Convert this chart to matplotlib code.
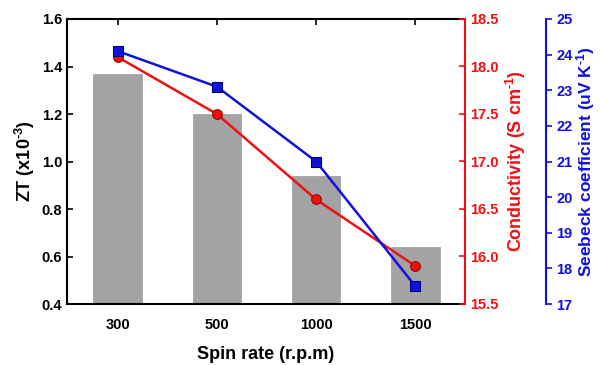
import numpy as np
import matplotlib
matplotlib.use('Agg')
import matplotlib.pyplot as plt

plt.rcParams['font.family'] = ['Liberation Sans', 'DejaVu Sans']
plt.rcParams['font.weight'] = 'bold'
plt.rcParams['mathtext.fontset'] = 'custom'
plt.rcParams['mathtext.rm'] = 'Liberation Sans:bold'
plt.rcParams['mathtext.bf'] = 'Liberation Sans:bold'
plt.rcParams['mathtext.default'] = 'bf'

spin_rates = ['300', '500', '1000', '1500']
zt = [1.37, 1.20, 0.94, 0.64]
conductivity = [18.1, 17.5, 16.6, 15.9]
seebeck = [24.1, 23.1, 21.0, 17.5]

red = '#ee1111'
blue = '#1111dd'
hy = '\u2010'

fig = plt.figure(figsize=(6, 3.65), dpi=100)
ax = fig.add_axes([67 / 600, 1 - 304 / 365, 398 / 600, 285 / 365])

x = np.arange(len(spin_rates))
ax.bar(x, zt, width=0.49, color='#a3a3a3', edgecolor='#9a9a9a', linewidth=0.5)
ax.set_xlim(-0.51, 3.5)
ax.set_ylim(0.4, 1.6)
ax.set_yticks(np.arange(0.4, 1.61, 0.2))
ax.set_xticks(x)
ax.set_xticklabels(spin_rates)
ax.tick_params(axis='x', which='both', bottom=False, top=True, direction='in', length=4, width=1.2, labelsize=10.5, pad=10)
ax.tick_params(axis='y', direction='in', length=4, width=1.2, labelsize=10.5)
ax.set_ylabel('ZT (x10$^{' + hy + '3}$)', fontsize=13, fontweight='bold', labelpad=3)
ax.set_xlabel('Spin rate (r.p.m)', fontsize=13, fontweight='bold', labelpad=10)
for s in ['left', 'top', 'bottom']:
    ax.spines[s].set_linewidth(1.5)
ax.spines['right'].set_visible(False)

ax2 = ax.twinx()
ax2.plot(x, conductivity, color=red, lw=1.8, marker='o', ms=7,
         mfc=red, mec='#a00000', mew=0.8, zorder=3)
ax2.set_ylim(15.5, 18.5)
ax2.set_yticks(np.arange(15.5, 18.51, 0.5))
ax2.spines['right'].set_color(red)
ax2.spines['right'].set_linewidth(1.5)
for s in ['left', 'top', 'bottom']:
    ax2.spines[s].set_visible(False)
ax2.tick_params(axis='y', colors=red, direction='in', length=4, width=1.2, labelsize=10.5)
ax2.set_ylabel('Conductivity (S cm$^{' + hy + '1}$)', color=red, fontsize=13, fontweight='bold', labelpad=4)

ax3 = ax.twinx()
ax3.spines['right'].set_position(('axes', 1 + 81 / 398))
ax3.plot(x, seebeck, color=blue, lw=1.8, marker='s', ms=7,
         mfc=blue, mec='#000080', mew=0.8, zorder=3)
ax3.set_ylim(17, 25)
ax3.set_yticks(np.arange(17, 25.1, 1))
ax3.spines['right'].set_color(blue)
ax3.spines['right'].set_linewidth(1.5)
for s in ['left', 'top', 'bottom']:
    ax3.spines[s].set_visible(False)
ax3.tick_params(axis='y', colors=blue, direction='out', length=4, width=1.2, labelsize=10.5)
ax3.set_ylabel('Seebeck coefficient (uV K$^{' + hy + '1}$)', color=blue, fontsize=12.5, fontweight='bold', labelpad=1)

fig.savefig('out.png', dpi=100)
